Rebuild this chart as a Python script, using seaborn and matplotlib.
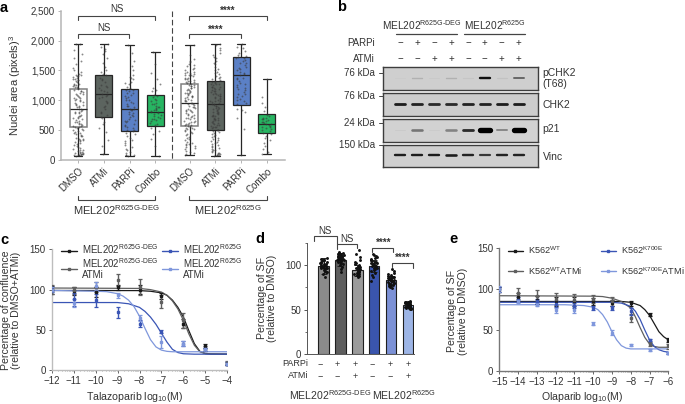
import numpy as np
import pandas as pd
import matplotlib
matplotlib.use("Agg")
import matplotlib.pyplot as plt
import seaborn as sns

# ---------- panel a ----------
a_labels = ["DMSO", "ATMi", "PARPi", "Combo", "DMSO", "ATMi", "PARPi", "Combo"]
a_colors = ["#ffffff", "#5c645f", "#5b80c6", "#27b562", "#ffffff", "#5c645f", "#5b80c6", "#27b562"]
a_min = [75, 100, 75, 75, 85, 75, 85, 100]
a_q1 = [550, 715, 480, 575, 570, 500, 925, 455]
a_med = [860, 1110, 860, 805, 960, 930, 1415, 610]
a_q3 = [1190, 1430, 1195, 1085, 1280, 1325, 1730, 770]
a_max = [1950, 1950, 1930, 1810, 1930, 1950, 1950, 1360]
a_pts0 = [75,80,85,90,100,110,120,130,150,170,190,210,235,260,285,310,330,350,375,400,420,440,460,480,500,515,530,550,565,580,600,620,640,660,680,700,720,740,760,780,800,820,840,860,880,900,920,940,960,980,1000,1020,1040,1060,1080,1100,1120,1140,1160,1180,1200,1220,1240,1260,1280,1300,1320,1340,1360,1380,1400,1420,1440,1470,1500,1540,1600,1650,1710,1780,1850,1950,1950,95,140,330,470,545,610,700,810,890,1010,1110,1190,1260,1350,1410,78,88,105,125,160,200,245,300,345,410,455,505,575,630,675,735,790,850,915,975,1035,1095,1155,1215,1275,1335,1395,1430]
a_pts1 = [100,240,330,470,540,610,700,720,760,800,860,900,950,990,1030,1060,1090,1110,1140,1170,1200,1230,1260,1300,1340,1380,1420,1440,1500,1560,1620,1700,1780,1860,1900,1950,640,780,880,970,1075,1155,1245,1360,1470,1830]
a_pts2 = [75,80,90,110,140,170,210,250,290,330,370,410,450,480,510,540,570,600,630,660,690,720,750,780,810,840,860,880,910,940,970,1000,1030,1060,1090,1120,1150,1180,1200,1230,1270,1310,1350,1390,1430,1500,1570,1660,1800,1930,560,650,745,830,905,1010,1125,85,190,310,430,495,585,675,765,855,955,1075,1165,1290,1370]
a_pts3 = [75,230,360,430,480,540,580,620,650,680,710,740,770,800,820,840,860,880,900,930,960,990,1020,1060,1090,1150,1210,1270,1350,1450,1600,1810,690,760,810,875,600,665,725,785,830,890,945,1005,1075,1180]
a_pts4 = [85,95,110,130,150,180,210,240,270,300,330,360,390,420,450,480,500,520,540,560,580,600,620,640,660,680,700,720,740,760,780,800,820,840,860,880,900,920,940,960,980,1000,1020,1040,1060,1080,1100,1120,1140,1160,1180,1200,1220,1240,1260,1280,1300,1320,1340,1360,1380,1400,1420,1440,1460,1480,1510,1540,1570,1600,1640,1690,1760,1930,430,530,590,650,710,770,830,890,950,1010,1070,1130,1190,1250,1310,1370,270,1420,205,290,375,465,515,575,635,695,755,815,875,935,995,1055,1115,1175,1235,1295,1355,1415,1475,1525,1585,1660,250,610,1090,1210,1330,1450]
a_pts5 = [75,80,85,90,100,115,130,150,170,190,215,240,265,290,315,340,365,390,415,440,465,490,510,530,550,570,590,610,630,650,670,690,710,730,750,770,790,810,830,850,870,890,910,930,950,970,990,1010,1030,1050,1070,1090,1110,1130,1150,1170,1190,1210,1230,1250,1270,1290,1310,1330,1350,1380,1410,1440,1470,1510,1550,1600,1650,1700,1750,1800,1850,1880,1920,1950,500,560,620,680,740,800,860,920,980,1040,1100,1160,1220,1280,95,125,160,205,255,305,355,405,455,505,545,585,625,665,705,745,785,825,865,905,945,985,1025,1065,1105,1145,1185,1225,1265,1305,1345,1395,1455,1525,1625,1725]
a_pts6 = [85,520,700,800,830,860,930,960,990,1020,1050,1080,1110,1140,1170,1200,1230,1260,1290,1320,1350,1380,1415,1440,1470,1500,1530,1560,1590,1620,1650,1680,1710,1730,1760,1790,1830,1880,1950,1000,1100,1190,1280,1370,1460,1545,1630,1700,1745,1900]
a_pts7 = [100,130,180,230,280,330,370,410,450,480,510,530,550,570,590,610,630,650,670,690,710,730,760,820,880,950,1050,1360,520,600,640,680,620,560,700,430]
a_points = [a_pts0, a_pts1, a_pts2, a_pts3, a_pts4, a_pts5, a_pts6, a_pts7]

# ---------- panel b ----------
lanes_parp = ["\u2212", "+", "\u2212", "+", "\u2212", "+", "\u2212", "+"]
lanes_atm = ["\u2212", "\u2212", "+", "+", "\u2212", "\u2212", "+", "+"]
blot_names = ["pCHK2\n(T68)", "CHK2", "p21", "Vinc"]
blot_sizes = ["76 kDa", "76 kDa", "24 kDa", "150 kDa"]
blot_bg = ["#cfcfcf", "#cdcdcd", "#d2d2d2", "#d0d0d0"]
blot_int = [[.03, .22, .04, .22, .08, .95, .1, .6],
            [.9, .88, .85, .85, .88, .88, .9, .9],
            [.05, .55, .04, .48, .85, 1, .45, 1],
            [.9, .9, .9, .9, .88, .8, .88, .88]]
blot_thick = [[1, 1.4, 1, 1.4, 1.2, 2.4, 1.2, 2],
              [2.8, 2.8, 2.8, 2.8, 2.8, 2.8, 2.8, 2.8],
              [1, 2.6, 1, 2.6, 2.8, 5.4, 2, 5.4],
              [2.4, 2.4, 2.4, 2.6, 2.4, 2.2, 2.4, 2.4]]

# ---------- panel c ----------
c_x = [-12, -11, -10, -9, -8, -7, -6, -5, -4]
c_k_y = [100, 98, 97, 103, 100, 92, 58, 30, 8]
c_k_e = [5, 5, 6, 3, 6, 4, 5, 2, 2]
c_g_y = [100, 99, 103, 112, 103, 85, 62, 27, 9]
c_g_e = [6, 4, 6, 8, 10, 8, 9, 3, 2]
c_b_y = [100, 88, 87, 72, 58, 48, 33, 26, 8]
c_b_e = [3, 8, 8, 7, 4, 2, 3, 2, 2]
c_l_y = [100, 84, 105, 93, 65, 35, 33, 26, 8]
c_l_e = [3, 5, 5, 3, 4, 7, 3, 2, 2]
cc_k_x = [-12, -8, -7.5, -7, -6.75, -6.5, -6.25, -6, -5.75, -5.5, -5.25, -5, -4.75, -4]
cc_k_y = [99, 98.8, 98, 96, 93, 87, 78, 66, 49, 33, 23.5, 20.8, 20.2, 20]
cc_g_x = [-12, -8, -7.5, -7, -6.75, -6.5, -6.25, -6, -5.75, -5.5, -5.25, -5, -4.75, -4]
cc_g_y = [102, 101.5, 100, 97, 93, 86, 76, 62, 45, 31, 23, 20.6, 20.2, 20]
cc_b_x = [-12, -9, -8.5, -8, -7.75, -7.5, -7.25, -7, -6.75, -6.5, -6.25, -6, -5.5, -4]
cc_b_y = [84, 84, 82.5, 78, 73, 66, 57, 46, 35, 26, 22, 20.5, 20, 20]
cc_l_x = [-12, -10, -9.5, -9, -8.75, -8.5, -8.25, -8, -7.75, -7.5, -7.25, -7, -6.75, -6.5, -4]
cc_l_y = [99, 98, 97.5, 95, 92, 87, 79, 67, 52, 38, 29, 25, 23.5, 23, 23]

# ---------- panel d ----------
d_parp = ["\u2212", "+", "+", "\u2212", "+", "+"]
d_atm = ["\u2212", "\u2212", "+", "\u2212", "\u2212", "+"]
d_cats = ["A", "B", "C", "D", "E", "F"]
d_means = [99, 106, 94, 99, 83, 55]
d_err = [9, 7, 6, 7, 5, 2]
d_colors = ["#8b8b8b", "#5e5e5e", "#9b9b9b", "#3a55ad", "#7c91d6", "#9db5e6"]
d_p0 = [87, 90, 92, 93, 94, 95, 96, 97, 97, 98, 98, 99, 99, 100, 100, 101, 101, 102, 103, 103, 104, 105, 106, 107, 108, 92, 96, 100, 102, 105]
d_p1 = [92, 95, 98, 100, 101, 102, 103, 104, 105, 105, 106, 106, 107, 107, 108, 108, 109, 109, 110, 110, 111, 111, 112, 112, 113, 113, 114, 103, 107, 110]
d_p2 = [87, 88, 89, 90, 90, 91, 91, 92, 92, 93, 93, 93, 94, 94, 95, 95, 96, 96, 97, 98, 98, 99, 100, 101, 102, 103, 105, 109, 112, 117]
d_p3 = [82, 86, 89, 91, 93, 94, 95, 96, 97, 98, 98, 99, 99, 100, 100, 101, 101, 102, 102, 103, 103, 104, 105, 106, 107, 108, 109, 110, 111, 112]
d_p4 = [74, 75, 76, 77, 78, 78, 79, 79, 80, 80, 81, 81, 82, 82, 83, 83, 84, 84, 85, 85, 86, 86, 87, 87, 88, 89, 90, 91, 93, 95]
d_p5 = [51, 51, 52, 52, 52, 53, 53, 53, 53, 54, 54, 54, 55, 55, 55, 55, 56, 56, 56, 56, 57, 57, 57, 57, 58, 58, 58, 59, 59, 60]
d_points = [d_p0, d_p1, d_p2, d_p3, d_p4, d_p5]

# ---------- panel e ----------
e_x = [-15, -14, -13, -12, -11, -10, -9, -8, -7, -6]
e_k_y = [100, 90, 87, 85, 85, 85, 83, 83, 69, 38]
e_k_e = [3, 5, 5, 5, 5, 4, 4, 3, 2, 2]
e_g_y = [100, 95, 92, 88, 87, 88, 85, 65, 33, 30]
e_g_e = [3, 7, 7, 7, 7, 5, 5, 5, 2, 3]
e_b_y = [100, 87, 85, 82, 80, 77, 77, 73, 38, 22]
e_b_e = [3, 3, 3, 4, 3, 3, 3, 4, 1, 1]
e_l_y = [100, 85, 81, 74, 75, 58, 47, 32, 26, 22]
e_l_e = [4, 2, 2, 3, 4, 2, 3, 1, 1, 1]
ec_k_x = [-15, -9, -8.5, -8, -7.75, -7.5, -7.25, -7, -6.75, -6.5, -6.25, -6]
ec_k_y = [85, 85, 85, 84, 82, 80, 75, 68, 58, 48, 42, 38]
ec_g_x = [-15, -10, -9.5, -9, -8.5, -8, -7.75, -7.5, -7.25, -7, -6.75, -6.5, -6]
ec_g_y = [92, 91.5, 91, 89, 85, 77, 66, 53, 41, 33, 30, 29, 29]
ec_b_x = [-15, -9, -8.5, -8, -7.75, -7.5, -7.25, -7, -6.75, -6.5, -6.25, -6]
ec_b_y = [84, 84, 83, 79, 73, 63, 50, 38, 30, 26, 24, 23]
ec_l_x = [-15, -11.5, -11, -10.5, -10, -9.75, -9.5, -9.25, -9, -8.75, -8.5, -8.25, -8, -6]
ec_l_y = [81, 81, 80.5, 80, 78, 75, 69, 60, 48, 38, 31, 28, 27, 27]

INK = "#333333"
BLK, GRY, BLU, LBL = "#1a1a1a", "#5f5f5f", "#3a55b5", "#7f97dc"
DEG = "MEL202$^{R625G\u2010DEG}$"
MUT = "MEL202$^{R625G}$"

sns.set_theme(style="ticks")
plt.rcParams["font.family"] = ["Liberation Sans", "DejaVu Sans"]
plt.rcParams["mathtext.default"] = "regular"
plt.rcParams["text.color"] = INK
plt.rcParams["axes.labelcolor"] = INK
plt.rcParams["xtick.color"] = "#555555"
plt.rcParams["ytick.color"] = "#555555"
plt.rcParams["xtick.labelcolor"] = INK
plt.rcParams["ytick.labelcolor"] = INK

W, H = 685, 404
fig = plt.figure(figsize=(W / 100, H / 100), dpi=100)


def frame(left, top, right, bottom):
    return fig.add_axes([left / W, 1 - bottom / H, (right - left) / W, (bottom - top) / H])


ov = fig.add_axes([0, 0, 1, 1], zorder=20, facecolor="none")
ov.set_xlim(0, W)
ov.set_ylim(H, 0)
ov.axis("off")


def txt(x, y, s, size=7, ha="center", va="center", **kw):
    ov.text(x, y, s, fontsize=size, ha=ha, va=va, **kw)


def bracket(x0, x1, y, d0=4, d1=4, color="#444444", lw=0.8):
    ov.plot([x0, x0, x1, x1], [y + d0, y, y, y + d1], color=color, lw=lw, solid_joinstyle="miter")


def clean(ax, color="#aaaaaa", lw=1.0):
    sns.despine(ax=ax)
    for s in ("left", "bottom"):
        ax.spines[s].set_color(color)
        ax.spines[s].set_linewidth(lw)
    ax.tick_params(labelsize=7, length=2.2, width=0.7, pad=2, color=color)


# panel a
ax = frame(61, 10.7, 285, 160)
pos = np.r_[np.arange(4.0), np.arange(4.0) + 4.32]
box_df = pd.DataFrame({"pos": np.repeat(pos, 5), "group": np.repeat(np.arange(8), 5),
                       "v": np.column_stack([a_min, a_q1, a_med, a_q3, a_max]).ravel()})
pal = {i: c for i, c in enumerate(a_colors)}
sns.boxplot(data=box_df, x="pos", y="v", hue="group", palette=pal, native_scale=True, dodge=False,
            width=0.66, whis=(0, 100), linecolor="#262626", linewidth=0.9, legend=False, ax=ax, saturation=1)
pt_df = pd.DataFrame({"pos": np.concatenate([[p] * len(v) for p, v in zip(pos, a_points)]),
                      "v": np.concatenate(a_points)})
sns.stripplot(data=pt_df, x="pos", y="v", native_scale=True, color="#3a3a3a", size=1.35, alpha=0.6,
              jitter=0.2, linewidth=0, ax=ax, zorder=5)
for i in (0, 4):
    ax.patches[i].set_edgecolor("#808080")
    ax.patches[i].set_linewidth(1.1)
ax.set_xlim(-0.66, 8.02)
ax.set_ylim(0, 2500)
ax.set_xticks(pos)
ax.set_xticklabels(a_labels, rotation=45, ha="right", rotation_mode="anchor", fontsize=7)
ax.set_yticks([0, 500, 1000, 1500, 2000, 2500])
ax.set_yticklabels(["0", "500", "1,000", "1,500", "2,000", "2,500"])
ax.set_xlabel("")
ax.set_ylabel("")
clean(ax, "#b5b5b5", 1.1)
ax.tick_params(axis="x", pad=2)
txt(15, 85, "Nuclei area (pixels)$^3$", 8, rotation=90)
ov.plot([172.3, 172.3], [10.7, 159.5], color="#444444", lw=0.8, ls=(0, (5, 2.5)))
bracket(78, 155.3, 15.7)
txt(116.7, 9, "NS", 7)
bracket(78, 129.5, 34.3)
txt(103.7, 27.7, "NS", 7)
bracket(189.3, 266.7, 15.7)
txt(228, 11, "****", 7, fontweight="bold")
bracket(189.3, 241, 34)
txt(215.3, 30, "****", 7, fontweight="bold")
bracket(78, 155.3, 200, -4, -4)
bracket(189.3, 266.7, 200, -4, -4)
txt(116.7, 210.5, DEG, 8)
txt(228, 210.5, MUT, 8)

# panel b
tops = [67.3, 93.3, 119.3, 144.7]
bots = [90, 116, 142, 167.3]
band_y = [78, 104, 130, 155]
ticks_y = [72.7, 95.7, 122.7, 145.3]
lane_x = 400.3 + 16.9 * np.arange(8)
for k in range(4):
    bx = frame(383.3, tops[k], 537.7, bots[k])
    bx.set_facecolor(blot_bg[k])
    bx.set_xlim(-1, 8.13)
    bx.set_ylim(tops[k], bots[k])
    bx.invert_yaxis()
    bx.set_xticks([])
    bx.set_yticks([])
    for s in bx.spines.values():
        s.set_color("#3d3d3d")
        s.set_linewidth(1.0)
    for i, (v, t) in enumerate(zip(blot_int[k], blot_thick[k])):
        shade = 0.81 * (1 - v)
        col = (shade, shade, shade)
        bx.plot([i - 0.3, i + 0.3], [band_y[k]] * 2, color=col, lw=t / 1.39, solid_capstyle="round", alpha=0.55 + 0.45 * v)
    txt(375, ticks_y[k], blot_sizes[k], 7, ha="right")
    ov.plot([379, 383.3], [ticks_y[k]] * 2, color="#444444", lw=0.7)
txt(542.7, 78.5, blot_names[0], 7.5, ha="left", linespacing=1.15)
txt(542.7, 105.3, blot_names[1], 7.5, ha="left")
txt(542.7, 129.3, blot_names[2], 7.5, ha="left")
txt(542.7, 156.7, blot_names[3], 7.5, ha="left")
txt(375, 42.7, "PARPi", 7, ha="right")
txt(375, 59.3, "ATMi", 7, ha="right")
for i in range(8):
    txt(lane_x[i], 42.7, lanes_parp[i], 7)
    txt(lane_x[i], 59.3, lanes_atm[i], 7)
txt(382, 25, DEG, 7.3, ha="left")
txt(464, 25, MUT, 7.3, ha="left")
ov.plot([395.7, 457.3], [34.3, 34.3], color="#444444", lw=0.9)
ov.plot([464.3, 525], [34.3, 34.3], color="#444444", lw=0.9)


def curves(ax, cs):
    for xs, ys, col in cs:
        sns.lineplot(x=xs, y=ys, color=col, lw=0.9, errorbar=None, ax=ax, zorder=2)


def points(ax, ps):
    for xs, ys, es, col in ps:
        ax.errorbar(xs, ys, yerr=es, fmt="s", ms=1.8, color=col, ecolor=col, elinewidth=1.0,
                    capsize=1.5, capthick=0.9, zorder=3)


def dose_axis(ax, lo, hi, spine):
    ax.set_xlim(lo, hi)
    ax.set_ylim(0, 150)
    ax.set_xticks(np.arange(lo, hi + 1))
    ax.set_xticklabels([f"\u2212{abs(v)}" for v in range(lo, hi + 1)])
    ax.set_xticks(np.concatenate([d + np.log10(np.arange(2, 10)) for d in range(lo, hi)]), minor=True)
    ax.set_yticks([0, 50, 100, 150])
    clean(ax, spine, 1.0)
    ax.tick_params(axis="x", which="minor", length=1.0, width=0.4, color="#666666")
    ax.tick_params(axis="both", which="major", color="#666666")


def key(ax, cs, labels, anchor, colsp, rowsp, size=7):
    hs = [plt.Line2D([], [], color=c, lw=1.0, marker="s", ms=1.8) for c in cs]
    leg = ax.legend(hs, labels, ncol=2, frameon=False, fontsize=size, loc="upper left",
                    bbox_to_anchor=anchor, bbox_transform=ov.transData, borderpad=0, borderaxespad=0,
                    handlelength=1.65, handletextpad=0.55, columnspacing=colsp, labelspacing=rowsp)
    leg.set_zorder(30)
    for t in leg.get_texts():
        t.set_linespacing(1.0)
        t.set_color(INK)


# panel c
ax = frame(51.7, 249.3, 227.3, 370.3)
curves(ax, [(cc_k_x, cc_k_y, BLK), (cc_g_x, cc_g_y, GRY), (cc_b_x, cc_b_y, BLU), (cc_l_x, cc_l_y, LBL)])
points(ax, [(c_x, c_k_y, c_k_e, BLK), (c_x, c_g_y, c_g_e, GRY), (c_x, c_b_y, c_b_e, BLU), (c_x, c_l_y, c_l_e, LBL)])
dose_axis(ax, -12, -4, "#bdbdbd")
key(ax, [BLK, GRY, BLU, LBL], [DEG, DEG + "\nATMi", MUT, MUT + "\nATMi"], (61, 242.5), 0.3, 0.0)
txt(11, 310, "Percentage of confluence\n(relative to DMSO+ATMi)", 7.6, rotation=90, linespacing=1.1)
txt(135, 397, "Talazoparib log$_{10}$(M)", 7.6)

# panel d
ax = frame(307.3, 243, 414, 354.3)
d_df = pd.DataFrame({"cat": d_cats, "m": d_means})
sns.barplot(data=d_df, x="cat", y="m", hue="cat", palette=dict(zip(d_cats, d_colors)), legend=False,
            width=0.62, edgecolor="#1f1f1f", linewidth=0.8, saturation=1, ax=ax, errorbar=None)
ax.errorbar(np.arange(6), d_means, yerr=d_err, fmt="none", ecolor="#222222", elinewidth=0.8, capsize=2, capthick=0.7, zorder=4)
pd_df = pd.DataFrame({"cat": np.concatenate([[c] * len(v) for c, v in zip(d_cats, d_points)]),
                      "v": np.concatenate(d_points)})
sns.stripplot(data=pd_df, x="cat", y="v", order=d_cats, color="#111111", size=2.1, jitter=0.2, linewidth=0, ax=ax, zorder=5)
ax.set_xlim(-0.97, 5.37)
ax.set_ylim(0, 124.5)
ax.set_yticks([0, 50, 100])
ax.set_yticks([25, 75, 124], minor=True)
ax.set_xticks(np.arange(6))
ax.set_xticklabels([])
ax.set_xlabel("")
ax.set_ylabel("")
clean(ax, "#555555", 0.7)
ax.tick_params(axis="y", which="minor", length=1.8, width=0.6)
ax.tick_params(axis="x", length=0)
bar_x = 319.7 + 17.6 * np.arange(6)
for i in range(6):
    txt(bar_x[i], 364, d_parp[i], 6.5)
    txt(bar_x[i], 376, d_atm[i], 6.5)
txt(308, 364, "PARPi", 6.5, ha="right")
txt(308, 376, "ATMi", 6.5, ha="right")
txt(267, 298, "Percentage of SF\n(relative to DMSO)", 7.6, rotation=90, linespacing=1.1)
txt(289, 395, DEG, 7.6, ha="left")
txt(372, 395, MUT, 7.6, ha="left")
bracket(314, 336.7, 236, 5, 8)
txt(325, 230.5, "NS", 7)
bracket(336.7, 357.3, 243.5, 5, 4)
txt(346.7, 239, "NS", 7)
bracket(372.3, 393.3, 248, 4, 4)
txt(384, 243, "****", 7, fontweight="bold")
bracket(391.7, 413.3, 262.5, 4, 5)
txt(402.5, 258, "****", 7, fontweight="bold")

# panel e
ax = frame(499.3, 248.3, 668.3, 371)
curves(ax, [(ec_k_x, ec_k_y, BLK), (ec_g_x, ec_g_y, GRY), (ec_b_x, ec_b_y, BLU), (ec_l_x, ec_l_y, LBL)])
points(ax, [(e_x, e_k_y, e_k_e, BLK), (e_x, e_g_y, e_g_e, GRY), (e_x, e_b_y, e_b_e, BLU), (e_x, e_l_y, e_l_e, LBL)])
dose_axis(ax, -15, -6, "#777777")
key(ax, [BLK, GRY, BLU, LBL],
    ["K562$^{WT}$", "K562$^{WT}$ATMi", "K562$^{K700E}$", "K562$^{K700E}$ATMi"], (507.7, 244.5), 2.0, 0.95, size=6.6)
txt(457.5, 311, "Percentage of SF\n(relative to DMSO)", 7.6, rotation=90, linespacing=1.1)
txt(582, 397, "Olaparib log$_{10}$(M)", 7.6)

# panel letters
for x, y, s in [(4, 8, "a"), (342, 7, "b"), (4, 240, "c"), (260, 239, "d"), (454, 239, "e")]:
    txt(x, y, s, 10.5, fontweight="bold", color="black")

fig.savefig("out.png", dpi=100)
